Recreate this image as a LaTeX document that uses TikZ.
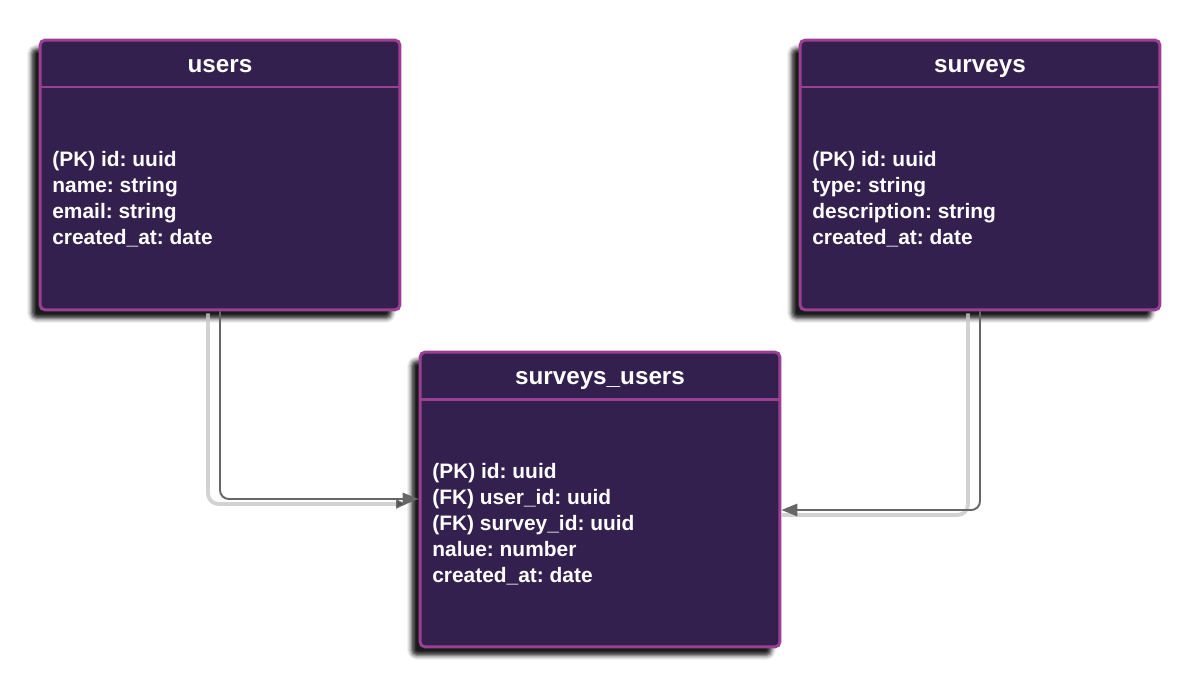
\documentclass[tikz,border=0pt]{standalone}
\usepackage{fontspec}
\setmainfont{Liberation Sans}
\usetikzlibrary{arrows.meta,shadows.blur}
\definecolor{tablefill}{HTML}{33204F}
\definecolor{tableborder}{HTML}{9B3F94}
\definecolor{linkgray}{HTML}{666666}
\tikzset{
  table/.style={draw=tableborder, fill=tablefill, line width=1.7pt, rounded corners=3pt,
    minimum width=7.2cm, inner sep=0pt,
    blur shadow={shadow xshift=-0.17cm, shadow yshift=-0.17cm, shadow opacity=90, shadow blur radius=0.09cm}},
  tabletitle/.style={text=white, text height=10pt, text depth=3pt,
    font=\bfseries\fontsize{13.8}{16}\selectfont},
  tablebody/.style={text=white, align=left, anchor=west, inner sep=0pt,
    font=\bfseries\frenchspacing\fontsize{11.9}{14.75}\selectfont},
  link/.style={draw=linkgray, line width=1.1pt, rounded corners=5pt,
    -{Triangle[length=9pt,width=7pt]}},
  linkshadow/.style={draw=black!22, line width=2.2pt, rounded corners=6pt, opacity=0.8,
    -{Triangle[length=6pt,width=5pt,color=black!70]}}
}
\begin{document}
\begin{tikzpicture}[x=0.02cm, y=-0.02cm]
        \useasboundingbox (0,0) rectangle (1200,687);
        % tables
        \node[table, minimum height=5.4cm] (users) at (220,175) {};
        \node[table, minimum height=5.4cm] (surveys) at (980,175) {};
        \node[table, minimum height=5.9cm] (surveysusers) at (600,499.5) {};
        \draw[tableborder, line width=1.7pt] (40,87) -- (400,87) (800,87) -- (1160,87) (420,399) -- (780,399);
        % titles
        \node[tabletitle] (userstitle) at (220,66) {users};
        \node[tabletitle] (surveystitle) at (980,66) {surveys};
        \node[tabletitle] (surveysuserstitle) at (600,378) {surveys\_users};
        % fields
        \node[tablebody] (usersfields) at (52,199) {(PK) id: uuid\\name: string\\email: string\\created\_at: date};
        \node[tablebody] (surveysfields) at (812,199) {(PK) id: uuid\\type: string\\description: string\\created\_at: date};
        \node[tablebody] (surveysusersfields) at (432,524) {(PK) id: uuid\\(FK) user\_id: uuid\\(FK) survey\_id: uuid\\nalue: number\\created\_at: date};
        % links
        \coordinate (userslink) at (220,499);
        \coordinate (surveyslink) at (980,510);
        \draw[linkshadow] ([shift={(-12,2)}]users.south) |- ([shift={(-12,5)}]surveysusers.west |- userslink);
        \draw[linkshadow, -] ([shift={(-12,2)}]surveys.south) |- ([shift={(0,5)}]surveysusers.east |- surveyslink);
        \draw[link] (users.south) |- (surveysusers.west |- userslink);
        \draw[link] (surveys.south) |- (surveysusers.east |- surveyslink);
\end{tikzpicture}
\end{document}
